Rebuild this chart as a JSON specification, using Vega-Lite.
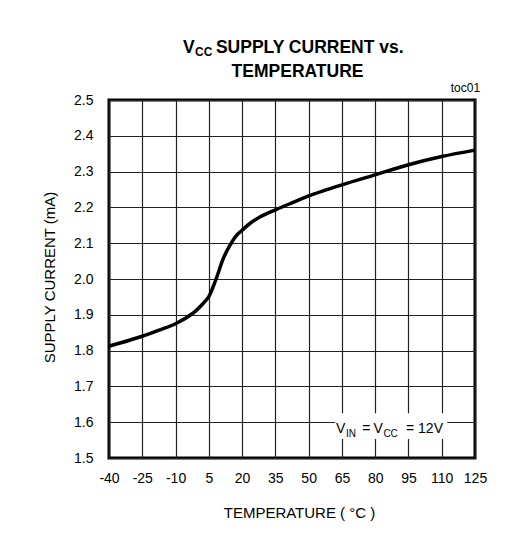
{
  "$schema": "https://vega.github.io/schema/vega-lite/v6.json",
  "autosize": {"type": "none"},
  "padding": {"left": 109, "top": 100, "right": 36, "bottom": 91},
  "width": 366,
  "height": 358,
  "background": "white",
  "config": {
    "view": {"stroke": "black", "strokeWidth": 3},
    "font": "Liberation Sans, Arial"
  },
  "layer": [
    {
      "data": {
        "values": [
          {"temp": -40, "current": 1.812},
          {"temp": -25, "current": 1.84},
          {"temp": -17, "current": 1.858},
          {"temp": -10, "current": 1.875},
          {"temp": -2, "current": 1.905},
          {"temp": 2.5, "current": 1.932},
          {"temp": 5, "current": 1.951},
          {"temp": 7, "current": 1.979},
          {"temp": 9.2, "current": 2.016},
          {"temp": 11.5, "current": 2.057},
          {"temp": 14.5, "current": 2.094},
          {"temp": 17.5, "current": 2.122},
          {"temp": 20, "current": 2.136},
          {"temp": 23.5, "current": 2.155},
          {"temp": 28, "current": 2.173},
          {"temp": 35, "current": 2.193},
          {"temp": 43, "current": 2.214},
          {"temp": 50, "current": 2.232},
          {"temp": 65, "current": 2.263},
          {"temp": 80, "current": 2.291},
          {"temp": 95, "current": 2.319},
          {"temp": 110, "current": 2.342},
          {"temp": 125, "current": 2.36}
        ]
      },
      "mark": {"type": "line", "color": "black", "strokeWidth": 3.5, "interpolate": "catmull-rom"},
      "encoding": {
        "x": {
          "field": "temp",
          "type": "quantitative",
          "scale": {"domain": [-40, 125], "nice": false, "zero": false},
          "axis": {
            "values": [-40, -25, -10, 5, 20, 35, 50, 65, 80, 95, 110, 125],
            "tickCount": 30,
            "labelOverlap": false,
            "labelFlush": false,
            "labelExpr": "replace(datum.label, '−', '-')",
            "title": "TEMPERATURE ( °C )",
            "titleFontSize": 15,
            "titleFontWeight": "normal",
            "titleColor": "black",
            "titleX": 190,
            "titleY": 59,
            "titleBaseline": "alphabetic",
            "labelFontSize": 14,
            "labelColor": "black",
            "labelPadding": 13,
            "ticks": false,
            "domain": false,
            "grid": true,
            "gridColor": "#222",
            "gridWidth": 1.2
          }
        },
        "y": {
          "field": "current",
          "type": "quantitative",
          "scale": {"domain": [1.5, 2.5], "nice": false, "zero": false},
          "axis": {
            "values": [1.5, 1.6, 1.7, 1.8, 1.9, 2.0, 2.1, 2.2, 2.3, 2.4, 2.5],
            "tickCount": 30,
            "labelOverlap": false,
            "labelFlush": false,
            "format": ".1f",
            "title": "SUPPLY CURRENT (mA)",
            "titleFontSize": 15,
            "titleFontWeight": "normal",
            "titleColor": "black",
            "titleAngle": 270,
            "titleX": -55,
            "titleY": 177,
            "titleAlign": "center",
            "titleBaseline": "alphabetic",
            "labelFontSize": 14,
            "labelColor": "black",
            "labelPadding": 16,
            "ticks": false,
            "domain": false,
            "grid": true,
            "gridColor": "#222",
            "gridWidth": 1.2
          }
        }
      }
    },
    {
      "data": {"values": [{}]},
      "mark": {"type": "rect", "fill": "white"},
      "encoding": {
        "x": {"datum": 62},
        "x2": {"datum": 112.5},
        "y": {"datum": 1.553},
        "y2": {"datum": 1.625}
      }
    },
    {
      "data": {"values": [{}]},
      "mark": {"type": "text", "align": "left", "baseline": "alphabetic", "fontSize": 14, "color": "black"},
      "encoding": {"x": {"datum": 62.3}, "y": {"datum": 1.57}, "text": {"value": "V"}}
    },
    {
      "data": {"values": [{}]},
      "mark": {"type": "text", "align": "left", "baseline": "alphabetic", "fontSize": 10, "dy": 4, "color": "black"},
      "encoding": {"x": {"datum": 66.8}, "y": {"datum": 1.57}, "text": {"value": "IN"}}
    },
    {
      "data": {"values": [{}]},
      "mark": {"type": "text", "align": "left", "baseline": "alphabetic", "fontSize": 14, "color": "black"},
      "encoding": {"x": {"datum": 74.2}, "y": {"datum": 1.57}, "text": {"value": "="}}
    },
    {
      "data": {"values": [{}]},
      "mark": {"type": "text", "align": "left", "baseline": "alphabetic", "fontSize": 14, "color": "black"},
      "encoding": {"x": {"datum": 79.2}, "y": {"datum": 1.57}, "text": {"value": "V"}}
    },
    {
      "data": {"values": [{}]},
      "mark": {"type": "text", "align": "left", "baseline": "alphabetic", "fontSize": 10, "dy": 4, "color": "black"},
      "encoding": {"x": {"datum": 83.7}, "y": {"datum": 1.57}, "text": {"value": "CC"}}
    },
    {
      "data": {"values": [{}]},
      "mark": {"type": "text", "align": "left", "baseline": "alphabetic", "fontSize": 14, "color": "black"},
      "encoding": {"x": {"datum": 93.9}, "y": {"datum": 1.57}, "text": {"value": "= 12V"}}
    },
    {
      "data": {"values": [{}]},
      "mark": {"type": "text", "align": "left", "baseline": "alphabetic", "fontSize": 17.5, "fontWeight": "bold", "color": "black"},
      "encoding": {"x": {"datum": -6.6}, "y": {"datum": 2.631}, "text": {"value": "V"}}
    },
    {
      "data": {"values": [{}]},
      "mark": {"type": "text", "align": "left", "baseline": "alphabetic", "fontSize": 12, "fontWeight": "bold", "dy": 3, "color": "black"},
      "encoding": {"x": {"datum": -1.2}, "y": {"datum": 2.631}, "text": {"value": "CC"}}
    },
    {
      "data": {"values": [{}]},
      "mark": {"type": "text", "align": "left", "baseline": "alphabetic", "fontSize": 17.5, "fontWeight": "bold", "color": "black"},
      "encoding": {"x": {"datum": 8.2}, "y": {"datum": 2.631}, "text": {"value": "SUPPLY CURRENT vs."}}
    },
    {
      "data": {"values": [{}]},
      "mark": {"type": "text", "align": "center", "baseline": "alphabetic", "fontSize": 17.5, "fontWeight": "bold", "color": "black"},
      "encoding": {"x": {"datum": 45}, "y": {"datum": 2.564}, "text": {"value": "TEMPERATURE"}}
    },
    {
      "data": {"values": [{}]},
      "mark": {"type": "text", "align": "right", "baseline": "alphabetic", "fontSize": 12, "color": "black"},
      "encoding": {"x": {"datum": 127.3}, "y": {"datum": 2.522}, "text": {"value": "toc01"}}
    }
  ]
}
